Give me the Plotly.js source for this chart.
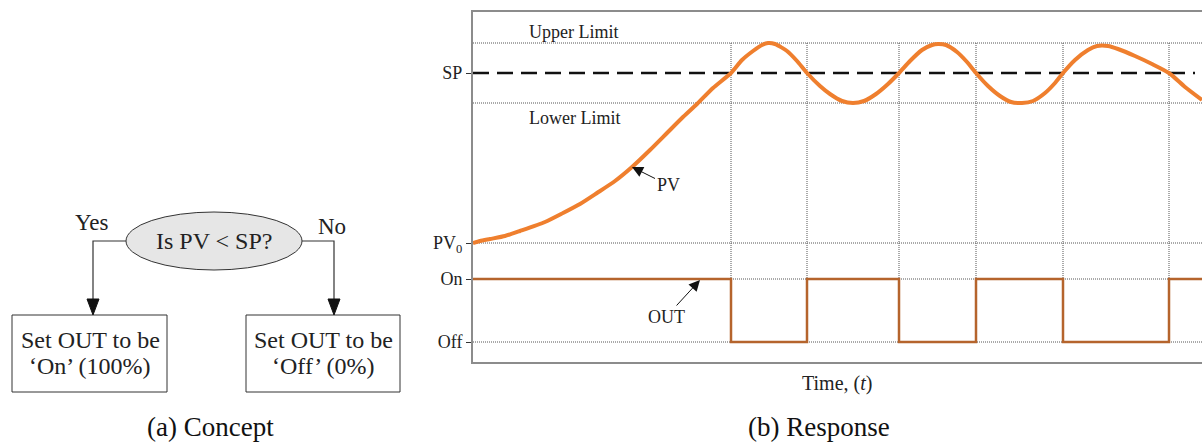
<!DOCTYPE html>
<html><head><meta charset="utf-8">
<script src="https://cdn.plot.ly/plotly-3.0.1.min.js"></script>
<style>html,body{margin:0;padding:0;background:#fff}#chart{width:1202px;height:444px}</style>
</head><body><div id="chart"></div>
<script>
// ---- data (response panel) ----
const levelNames = ['Off', 'On', 'PV<sub>0</sub>', 'SP'];
const levelValues = [20, 83, 119, 289];
const upperLimit = 319;
const lowerLimit = 259;
const setPoint = 289;
const pvStart = 119;
const outOn = 83;
const outOff = 20;
const switchTimes = [258, 334, 426, 503, 590, 696];
const pvTime = [0, 7, 17, 32, 47, 72, 90, 107, 124, 142, 159, 177, 194, 209, 224, 240, 258, 269, 280, 289, 295, 302, 314, 324, 334, 347, 357, 369, 380, 391, 403, 415, 426, 437, 449, 459, 465, 473, 484, 494, 503, 515, 527, 538, 549, 560, 572, 582, 590, 602, 615, 624, 635, 645, 662, 679, 696, 712, 729];
const pvValue = [119, 121, 123, 126, 131, 140, 149, 158, 169, 181, 195, 212, 229, 244, 258, 274, 289, 302, 311, 317, 319, 318, 311, 301, 289, 276, 268, 261, 259, 261, 268, 278, 289, 301, 312, 317, 318, 317, 310, 300, 289, 276, 266, 260, 259, 261, 269, 279, 289, 302, 312, 316, 316, 313, 306, 298, 289, 275, 262];
const outTime = [0, 258, 334, 426, 503, 590, 696, 729];
const outState = [83, 20, 83, 20, 83, 20, 83, 83];
const tEnd = 729;

// ---- text (concept panel) ----
const question = 'Is PV < SP?';
const yesLabel = 'Yes';
const noLabel = 'No';
const boxLine1 = 'Set OUT to be';
const onLine2 = '\u2018On\u2019 (100%)';
const offLine2 = '\u2018Off\u2019 (0%)';
const captionA = '(a) Concept';
const captionB = '(b) Response';

const W = 1202, H = 444;
const PX = x => x / W;
const PY = y => 1 - y / H;
const serif = 'Liberation Serif, Times New Roman, serif';

const traces = [
  {x: pvTime, y: pvValue, type: 'scatter', mode: 'lines',
   line: {color: '#ef7f2e', width: 4, shape: 'spline', smoothing: 0.6}, hoverinfo: 'skip'},
  {x: outTime, y: outState, type: 'scatter', mode: 'lines',
   line: {color: '#b5642c', width: 2.5, shape: 'hv'}, hoverinfo: 'skip'}
];

const shapes = [];
const dotted = {color: '#555', width: 1, dash: '1px,1px'};
[upperLimit, lowerLimit, pvStart, outOn, outOff].forEach(v => {
  shapes.push({type: 'line', xref: 'x', yref: 'y', x0: 0, x1: tEnd, y0: v, y1: v, line: dotted, layer: 'below'});
});
switchTimes.forEach(t => {
  shapes.push({type: 'line', xref: 'x', yref: 'y', x0: t, x1: t, y0: outOff, y1: upperLimit, line: dotted, layer: 'below'});
});
shapes.push({type: 'line', xref: 'x', yref: 'y', x0: 0, x1: 722, y0: setPoint, y1: setPoint,
  line: {color: '#111', width: 2.5, dash: '16px,8px'}, layer: 'below'});

// concept diagram
const dark = '#333';
shapes.push({type: 'circle', xref: 'paper', yref: 'paper', x0: PX(126), x1: PX(302), y0: PY(270), y1: PY(212),
  fillcolor: '#e6e6e6', line: {color: dark, width: 1}});
shapes.push({type: 'rect', xref: 'paper', yref: 'paper', x0: PX(12), x1: PX(167), y0: PY(392), y1: PY(315),
  fillcolor: 'rgba(0,0,0,0)', line: {color: dark, width: 1}});
shapes.push({type: 'rect', xref: 'paper', yref: 'paper', x0: PX(246), x1: PX(400), y0: PY(392), y1: PY(315),
  fillcolor: 'rgba(0,0,0,0)', line: {color: dark, width: 1}});
function pth(pts, close) {
  return pts.map((p, i) => (i ? 'L' : 'M') + PX(p[0]) + ',' + PY(p[1])).join(' ') + (close ? ' Z' : '');
}
shapes.push({type: 'path', xref: 'paper', yref: 'paper', path: pth([[126, 241], [93, 241], [93, 300]]), line: {color: dark, width: 1.2}});
shapes.push({type: 'path', xref: 'paper', yref: 'paper', path: pth([[87, 299], [99, 299], [93, 315]], true), fillcolor: '#111', line: {color: '#111', width: 1}});
shapes.push({type: 'path', xref: 'paper', yref: 'paper', path: pth([[302, 241], [334, 241], [334, 300]]), line: {color: dark, width: 1.2}});
shapes.push({type: 'path', xref: 'paper', yref: 'paper', path: pth([[328, 299], [340, 299], [334, 315]], true), fillcolor: '#111', line: {color: '#111', width: 1}});

const tf = (s) => ({family: serif, size: s, color: '#222'});
const P = (x, y, text, size, color) => ({xref: 'paper', yref: 'paper', x: PX(x), y: PY(y), text: text,
  showarrow: false, xanchor: 'center', yanchor: 'middle', borderpad: 0, font: {family: serif, size: size, color: color || '#222'}});
const annotations = [
  {xref: 'x', yref: 'y', x: 54, y: 330, text: 'Upper Limit', showarrow: false, xanchor: 'left', yanchor: 'middle', font: tf(18)},
  {xref: 'x', yref: 'y', x: 54, y: 244, text: 'Lower Limit', showarrow: false, xanchor: 'left', yanchor: 'middle', font: tf(18)},
  {xref: 'x', yref: 'y', x: 159, y: 195, text: 'PV', showarrow: true, ax: 36, ay: 18, arrowhead: 2, arrowsize: 2.2, arrowwidth: 1, arrowcolor: '#111', font: tf(18)},
  {xref: 'x', yref: 'y', x: 227, y: 82, text: 'OUT', showarrow: true, ax: -34, ay: 37, arrowhead: 2, arrowsize: 2.2, arrowwidth: 1, arrowcolor: '#111', font: tf(18)},
  P(837, 383, 'Time, (<i>t</i>)', 20),
  P(214, 241, question, 24),
  P(92, 222, yesLabel, 23),
  P(332, 226, noLabel, 23),
  P(90, 340, boxLine1, 24),
  P(90, 366, onLine2, 24),
  P(323, 340, boxLine1, 24),
  P(323, 366, offLine2, 24),
  P(210, 427, captionA, 27, '#111'),
  P(819, 427, captionB, 27, '#111')
];

const layout = {
  width: W, height: H,
  margin: {l: 0, r: 0, t: 0, b: 0, pad: 0},
  paper_bgcolor: '#fff', plot_bgcolor: '#fff',
  showlegend: false,
  xaxis: {domain: [PX(473), 1], range: [0, tEnd], showgrid: false, zeroline: false, showticklabels: false, ticks: '',
          showline: true, linecolor: '#8c8c8c', linewidth: 2, mirror: true, fixedrange: true},
  yaxis: {domain: [PY(362), PY(12)], range: [0, 350], showgrid: false, zeroline: false,
          showline: true, linecolor: '#8c8c8c', linewidth: 2,
          ticks: 'outside', ticklen: 5, tickcolor: '#333', tickwidth: 1,
          tickvals: levelValues, ticktext: levelNames, tickfont: tf(18), fixedrange: true},
  shapes: shapes,
  annotations: annotations
};

Plotly.newPlot('chart', traces, layout, {displayModeBar: false, staticPlot: true});
</script>
</body></html>
